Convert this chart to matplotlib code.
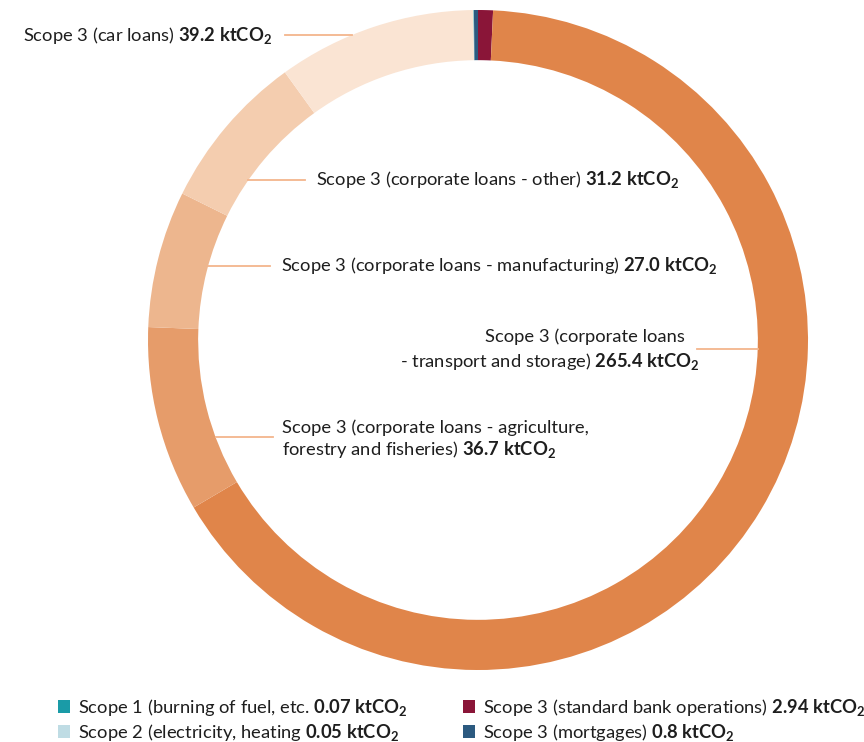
import matplotlib.pyplot as plt
from matplotlib.patches import Patch
import numpy as np

plt.rcParams['font.family'] = ['Lato', 'DejaVu Sans']
plt.rcParams['mathtext.fontset'] = 'custom'
plt.rcParams['mathtext.rm'] = 'Lato'
plt.rcParams['mathtext.bf'] = 'Lato:bold'
plt.rcParams['mathtext.it'] = 'Lato:italic'

# segments in drawing order (clockwise from the top)
segments = ['std_bank', 'transport', 'agriculture', 'manufacturing', 'other',
            'car_loans', 'scope2', 'scope1', 'mortgages']
values = [2.94, 265.4, 36.7, 27.0, 31.2, 39.2, 0.05, 0.07, 0.8]
colors = ['#8A1538', '#E0854A', '#E69C6A', '#EDB68E', '#F4CDAF',
          '#FAE4D3', '#BFDCE4', '#1A9BA7', '#2C5A80']

legend_keys = ['scope1', 'scope2', 'std_bank', 'mortgages']
legend_labels = [r'Scope 1 (burning of fuel, etc. $\mathbf{0.07\ ktCO_2}$',
                 r'Scope 2 (electricity, heating $\mathbf{0.05\ ktCO_2}$',
                 r'Scope 3 (standard bank operations) $\mathbf{2.94\ ktCO_2}$',
                 r'Scope 3 (mortgages) $\mathbf{0.8\ ktCO_2}$']

TEXT = '#1e1e1e'
LEADER = '#F3B58C'
FS = 13.2
R_IN = 0.848

fig = plt.figure(figsize=(8.64, 7.42), dpi=100)
ax = fig.add_axes([148 / 864, 72 / 742, 660 / 864, 660 / 742])
wedges, _ = ax.pie(values, colors=colors, startangle=90, counterclock=False, radius=1,
                   wedgeprops=dict(width=1 - R_IN, linewidth=0))
ax.set_xlim(-1, 1)
ax.set_ylim(-1, 1)
ax.set_aspect('equal')
ax.axis('off')


def px(x, y):
    return (x - 478) / 330, (340 - y) / 330


def inner_x(y, side=-1):
    return side * np.sqrt(R_IN ** 2 - y ** 2)


# car loans (outside the ring, leader to outer edge)
tx, ty = px(272, 35)
ax.text(tx, ty, r'Scope 3 (car loans) $\mathbf{39.2\ ktCO_2}$', ha='right', va='center',
        fontsize=FS, color=TEXT, clip_on=False)
x0, _ = px(285, 35)
ax.plot([x0, -np.sqrt(1 - ty ** 2)], [ty, ty], color=LEADER, lw=1.3, clip_on=False)

# other
tx, ty = px(316, 180)
ax.text(tx, ty, r'Scope 3 (corporate loans - other) $\mathbf{31.2\ ktCO_2}$', ha='left', va='center',
        fontsize=FS, color=TEXT)
x1, _ = px(305, 180)
ax.plot([inner_x(ty), x1], [ty, ty], color=LEADER, lw=1.3)

# manufacturing
tx, ty = px(281, 266)
ax.text(tx, ty, r'Scope 3 (corporate loans - manufacturing) $\mathbf{27.0\ ktCO_2}$', ha='left',
        va='center', fontsize=FS, color=TEXT)
x1, _ = px(270, 266)
ax.plot([inner_x(ty), x1], [ty, ty], color=LEADER, lw=1.3)

# transport and storage
tx, ty = px(685, 337)
ax.text(tx, ty, 'Scope 3 (corporate loans', ha='right', va='center', fontsize=FS, color=TEXT)
tx, ty = px(699, 361)
ax.text(tx, ty, r'- transport and storage) $\mathbf{265.4\ ktCO_2}$', ha='right', va='center',
        fontsize=FS, color=TEXT)
x0, ly = px(697, 349)
ax.plot([x0, inner_x(ly, 1)], [ly, ly], color=LEADER, lw=1.3)

# agriculture
tx, ty = px(282, 440)
ax.text(tx, ty, 'Scope 3 (corporate loans - agriculture,\n' + r'forestry and fisheries) $\mathbf{36.7\ ktCO_2}$',
        ha='left', va='center', multialignment='left', fontsize=FS, color=TEXT, linespacing=1.2)
_, ly = px(0, 437)
x1, _ = px(273, 437)
ax.plot([inner_x(ly), x1], [ly, ly], color=LEADER, lw=1.3)

# legend
handles = [Patch(facecolor=colors[segments.index(k)], edgecolor='none') for k in legend_keys]
fig.legend(handles, legend_labels, ncol=2, loc='upper left', bbox_to_anchor=(58 / 864, 1 - 697 / 742),
           frameon=False, fontsize=FS, handlelength=0.65, handleheight=0.65, handletextpad=0.45,
           columnspacing=3.0, labelspacing=0.22, borderpad=0, borderaxespad=0, labelcolor=TEXT)

fig.savefig('out.png', dpi=100)
